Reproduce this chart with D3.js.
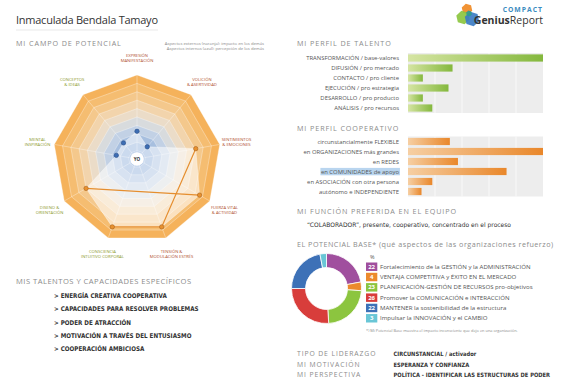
<!DOCTYPE html>
<html>
<head>
<meta charset="utf-8">
<script src="https://cdn.jsdelivr.net/npm/d3@7"></script>
<style>
  html, body { margin: 0; padding: 0; background: #fff; }
  svg { display: block; font-family: "Open Sans", sans-serif; }
  .hdr { fill: #8c8c8c; font-size: 7.2px; letter-spacing: 0.9px; }
  .lbl { fill: #555; font-size: 5.9px; }
  .bold { fill: #333; font-family: "DejaVu Sans", sans-serif; font-weight: bold; font-size: 6.4px; }
  .tiny { fill: #8a8a8a; font-size: 4.2px; }
</style>
</head>
<body>
<svg id="chart" width="567" height="389"></svg>
<script>
/* ------------ DATA ---------------------------------------------------- */
const personName = 'Inmaculada Bendala Tamayo';

const radarAxes = [
  ['EXPRESIÓN', 'MANIFESTACIÓN'], ['VOLICIÓN', '& ASERTIVIDAD'], ['SENTIMIENTOS', '& EMOCIONES'],
  ['FUERZA VITAL', '& ACTIVIDAD'], ['TENSIÓN &', 'MODULACIÓN ESTRÉS'], ['CONSCIENCIA', 'INTUITIVO CORPORAL'],
  ['DISEÑO &', 'ORIENTACIÓN'], ['MENTAL', 'INSPIRACIÓN'], ['CONCEPTOS', '& IDEAS']
];
const radarValues = [3.3, 1.9, 7.1, 8.6, 8.6, 8.6, 7.0, 2.5, 2.5];
const radarKind   = ['int', 'int', 'ext', 'ext', 'ext', 'ext', 'ext', 'int', 'int'];
const orangeLinks = [[6, 3], [2, 4, 5]];

const talentLabels = ['TRANSFORMACIÓN / base-valores', 'DIFUSIÓN / pro mercado', 'CONTACTO / pro cliente',
  'EJECUCIÓN / pro estrategia', 'DESARROLLO / pro producto', 'ANÁLISIS / pro recursos'];
const talentValues = [100, 33, 11, 30, 11, 18];

const coopLabels = ['circunstancialmente FLEXIBLE', 'en ORGANIZACIONES más grandes', 'en REDES',
  'en COMUNIDADES de apoyo', 'en ASOCIACIÓN con otra persona', 'autónomo e INDEPENDIENTE'];
const coopValues = [31, 100, 37, 73, 18, 10];

const baseLabels = ['Fortalecimiento de la GESTIÓN y la ADMINISTRACIÓN', 'VENTAJA COMPETITIVA y ÉXITO EN EL MERCADO',
  'PLANIFICACIÓN-GESTIÓN DE RECURSOS pro-objetivos', 'Promover la COMUNICACIÓN e INTERACCIÓN',
  'MANTENER la sostenibilidad de la estructura', 'Impulsar la INNOVACIÓN y el CAMBIO'];
const baseValues = [22, 4, 23, 26, 22, 3];

const talents = ['ENERGÍA CREATIVA COOPERATIVA', 'CAPACIDADES PARA RESOLVER PROBLEMAS', 'PODER DE ATRACCIÓN',
  'MOTIVACIÓN A TRAVÉS DEL ENTUSIASMO', 'COOPERACIÓN AMBICIOSA'];

const profileKeys   = ['TIPO DE LIDERAZGO', 'MI MOTIVACIÓN', 'MI PERSPECTIVA'];
const profileValues = ['CIRCUNSTANCIAL / activador', 'ESPERANZA Y CONFIANZA', 'POLÍTICA - IDENTIFICAR LAS ESTRUCTURAS DE PODER'];

const teamRole = '“COLABORADOR”, presente, cooperativo, concentrado en el proceso';

/* ------------ SVG ----------------------------------------------------- */
const svg = d3.select('#chart');
const defs = svg.append('defs');

function gradient(id, c0, c1) {
  const g = defs.append('linearGradient').attr('id', id)
    .attr('x1', '0%').attr('y1', '0%').attr('x2', '100%').attr('y2', '0%');
  g.append('stop').attr('offset', '0%').attr('stop-color', c0);
  g.append('stop').attr('offset', '100%').attr('stop-color', c1);
}
gradient('greenGrad', '#d6e5a3', '#84b83d');
gradient('orangeGrad', '#f6cfa3', '#e9872a');

/* ------------ HEADER -------------------------------------------------- */
svg.append('text').attr('x', 16).attr('y', 24).attr('fill', '#333')
  .style('font-size', '11px').attr('textLength', 142).text(personName);
svg.append('line').attr('x1', 16).attr('x2', 158).attr('y1', 30).attr('y2', 30)
  .attr('stroke', '#f1f1f1').attr('stroke-width', 1.5);

// logo
const logo = svg.append('g');
const hex = (x, y, r) => d3.range(6).map(i => [x + r * Math.cos(i * Math.PI / 3 + 0.3), y + r * Math.sin(i * Math.PI / 3 + 0.3)]);
[[467, 9, 5.5, '#f08a24'], [463, 17.5, 7, '#8cc63f'], [472, 19, 7.5, '#3c7cc4'], [469, 13.5, 3, '#2f9c8e']]
  .forEach(([x, y, r, c]) => logo.append('path').attr('d', d3.line()(hex(x, y, r)) + 'Z').attr('fill', c).attr('opacity', 0.92));
logo.append('text').attr('x', 543).attr('y', 12).attr('text-anchor', 'end').attr('fill', '#3b8cc0')
  .style('font-size', '6.8px').style('font-weight', 'bold').style('letter-spacing', '1px').text('COMPACT');
const gr = logo.append('text').attr('x', 543).attr('y', 24).attr('text-anchor', 'end').attr('fill', '#333')
  .style('font-size', '10.5px');
gr.append('tspan').style('font-weight', 'bold').text('Genius');
gr.append('tspan').text('Report');

/* ------------ RADAR --------------------------------------------------- */
svg.append('text').attr('class', 'hdr').attr('x', 16).attr('y', 46).text('MI CAMPO DE POTENCIAL');
svg.append('text').attr('class', 'tiny').attr('x', 264).attr('y', 44.5).attr('text-anchor', 'end')
  .text('Aspectos externos (naranja): impacto en los demás');
svg.append('text').attr('class', 'tiny').attr('x', 264).attr('y', 49.5).attr('text-anchor', 'end')
  .text('Aspectos internos (azul): percepción de los demás');

const cx = 137, cy = 159, R = 84;
const n = radarAxes.length;
const ang = i => i * 2 * Math.PI / n;
const rScale = d3.scaleLinear().domain([0, 10]).range([0, R]);
const pt = (i, r) => [r * Math.sin(ang(i)), -r * Math.cos(ang(i))];
const ringCol = d3.scaleLinear().domain([0, 0.4, 0.58, 0.8, 1])
  .range(['#6592d0', '#cfdae8', '#f0dcc2', '#f5c27c', '#f5ac50']);

const radar = svg.append('g').attr('transform', `translate(${cx},${cy})`);
const ringLine = lvl => d3.lineRadial().angle((d, i) => ang(i)).radius(() => rScale(lvl)).curve(d3.curveLinearClosed)(radarAxes);

radar.selectAll('path.ring').data(d3.range(10, 0, -1)).join('path')
  .attr('class', 'ring')
  .attr('d', ringLine)
  .attr('fill', l => ringCol((l - 0.5) / 10))
  .attr('stroke', '#fff').attr('stroke-width', 0.6).attr('stroke-opacity', 0.55);

radar.selectAll('line.spoke').data(radarAxes).join('line')
  .attr('class', 'spoke')
  .attr('x2', (d, i) => pt(i, R)[0])
  .attr('y2', (d, i) => pt(i, R)[1])
  .attr('stroke', '#fff').attr('stroke-width', 0.6).attr('stroke-opacity', 0.55);

radar.append('path')
  .attr('d', d3.lineRadial().angle((d, i) => ang(i)).radius(d => rScale(d)).curve(d3.curveLinearClosed)(radarValues))
  .attr('fill', '#fff').attr('fill-opacity', 0.55).attr('stroke', '#fff').attr('stroke-opacity', 0.6).attr('stroke-width', 0.6);

orangeLinks.forEach(link => {
  radar.append('path')
    .attr('d', d3.line()(link.map(i => pt(i, rScale(radarValues[i])))))
    .attr('fill', 'none').attr('stroke', '#e58e2f').attr('stroke-width', 1.2);
});

radar.selectAll('circle.pt').data(radarValues).join('circle')
  .attr('class', 'pt')
  .attr('cx', (d, i) => pt(i, rScale(d))[0])
  .attr('cy', (d, i) => pt(i, rScale(d))[1])
  .attr('r', 2.2)
  .attr('fill', (d, i) => radarKind[i] === 'ext' ? '#e8912f' : '#3d6db3')
  .attr('stroke', (d, i) => radarKind[i] === 'ext' ? '#a8611d' : '#2a4f8a')
  .attr('stroke-width', 0.6);

radar.append('circle').attr('r', 6.8).attr('fill', '#fff');
radar.append('text').attr('y', 1.6).attr('text-anchor', 'middle').attr('fill', '#333')
  .style('font-size', '4.6px').style('font-weight', 'bold').text('YO');

radar.selectAll('text.axis').data(radarAxes).join('text')
  .attr('class', 'axis')
  .attr('text-anchor', 'middle')
  .attr('fill', (d, i) => i <= 4 ? '#b0502d' : '#8d9a2c')
  .style('font-size', '4.2px')
  .each(function (d, i) {
    const [x, y] = pt(i, 101);
    d3.select(this).selectAll('tspan').data(d).join('tspan')
      .attr('x', x).attr('y', (t, k) => y - 0.8 + k * 5).text(t => t);
  });

/* ------------ BAR PANELS ---------------------------------------------- */
function barPanel(labels, values, y0, y1, fillId) {
  const x = d3.scaleLinear().domain([0, 100]).range([408, 543]);
  const y = d3.scaleBand().domain(labels).range([y0, y1]).paddingInner(0.28).paddingOuter(0.14);
  const g = svg.append('g');
  g.append('rect').attr('x', x(0)).attr('y', y0).attr('width', x(100) - x(0)).attr('height', y1 - y0).attr('fill', '#ededed');
  g.selectAll('line.grid').data([20, 40, 60, 80]).join('line')
    .attr('x1', x).attr('x2', x).attr('y1', y0).attr('y2', y1)
    .attr('stroke', '#fff').attr('stroke-width', 0.7);
  g.selectAll('rect.bar').data(values).join('rect')
    .attr('x', x(0)).attr('y', (d, i) => y(labels[i]))
    .attr('width', d => x(d) - x(0)).attr('height', y.bandwidth())
    .attr('fill', `url(#${fillId})`);
  g.selectAll('text.lbl').data(labels).join('text')
    .attr('class', 'lbl').attr('x', 399).attr('y', d => y(d) + y.bandwidth() / 2 + 2.1)
    .attr('text-anchor', 'end').text(d => d);
  return { g, y };
}

svg.append('text').attr('class', 'hdr').attr('x', 297).attr('y', 46).text('MI PERFIL DE TALENTO');
barPanel(talentLabels, talentValues, 53, 113, 'greenGrad');

svg.append('text').attr('class', 'hdr').attr('x', 297).attr('y', 130.5).text('MI PERFIL COOPERATIVO');
const coop = barPanel(coopLabels, coopValues, 136.5, 196.5, 'orangeGrad');
// highlighted label
const hl = coop.g.selectAll('text.lbl').filter(d => d === 'en COMUNIDADES de apoyo').node().getBBox();
coop.g.insert('rect', 'text').attr('x', hl.x - 0.5).attr('y', hl.y + 0.3).attr('width', hl.width + 1).attr('height', hl.height - 0.6)
  .attr('fill', '#b9d5ef');

/* ------------ TEAM ROLE ----------------------------------------------- */
svg.append('text').attr('class', 'hdr').attr('x', 297).attr('y', 213.5).text('MI FUNCIÓN PREFERIDA EN EL EQUIPO');
svg.append('text').attr('class', 'bold').attr('x', 307).attr('y', 226.5)
  .attr('textLength', 204).attr('lengthAdjust', 'spacingAndGlyphs').style('font-weight', 'normal')
  .style('font-size', '6.2px').attr('fill', '#222').text(teamRole);

/* ------------ DONUT --------------------------------------------------- */
svg.append('text').attr('class', 'hdr').attr('x', 297).attr('y', 247).attr('textLength', 257).text('EL POTENCIAL BASE* (qué aspectos de las organizaciones refuerzo)');

const baseColors = ['#a04f9e', '#ec8a2d', '#8cc53f', '#d83d3b', '#3d71b7', '#69c6d6'];
const pie = d3.pie().sort(null).value(d => d);
const arc = d3.arc().innerRadius(21).outerRadius(35);
svg.append('g').attr('transform', 'translate(326.5,288.5)')
  .selectAll('path').data(pie(baseValues)).join('path')
  .attr('d', arc).attr('fill', (d, i) => baseColors[i]).attr('stroke', '#fff').attr('stroke-width', 0.8);

svg.append('text').attr('x', 370).attr('y', 259).attr('fill', '#555').style('font-size', '5.5px').text('%');
const leg = svg.append('g');
const ly = d3.scaleBand().domain(baseLabels).range([262.5, 322.5]).paddingInner(0.18);
leg.selectAll('rect').data(baseLabels).join('rect')
  .attr('x', 366).attr('y', d => ly(d)).attr('width', 11.3).attr('height', ly.bandwidth())
  .attr('fill', (d, i) => baseColors[i]);
leg.selectAll('text.num').data(baseValues).join('text')
  .attr('class', 'num').attr('x', 371.6).attr('y', (d, i) => ly(baseLabels[i]) + ly.bandwidth() / 2 + 2.1)
  .attr('text-anchor', 'middle').attr('fill', '#fff').style('font-size', '6px').style('font-weight', 'bold').text(d => d);
leg.selectAll('text.lbl').data(baseLabels).join('text')
  .attr('class', 'lbl').attr('x', 380).attr('y', d => ly(d) + ly.bandwidth() / 2 + 2.1)
  .style('font-size', '6.1px').text(d => d);

svg.append('text').attr('class', 'tiny').attr('x', 366).attr('y', 332)
  .style('font-size', '3.9px').text('*) Mi Potencial Base muestra el impacto inconsciente que dejo en una organización.');

/* ------------ TALENTS ------------------------------------------------- */
svg.append('text').attr('class', 'hdr').attr('x', 16).attr('y', 283.5).attr('textLength', 176)
  .style('font-size', '7.6px').text('MIS TALENTOS Y CAPACIDADES ESPECÍFICOS');
// narrow bold face: squeeze horizontally with a transform
svg.selectAll('text.talent').data(talents).join('text')
  .attr('class', 'bold talent')
  .attr('transform', (d, i) => `translate(54,${298.3 + i * 13.1}) scale(0.88,1)`)
  .text(d => '> ' + d);

/* ------------ PROFILE ------------------------------------------------- */
const py = d3.scalePoint().domain(profileKeys).range([356, 377]);
svg.selectAll('text.pkey').data(profileKeys).join('text')
  .attr('class', 'hdr pkey').attr('x', 297).attr('y', d => py(d)).style('font-size', '6.8px').text(d => d);
svg.selectAll('text.pval').data(profileValues).join('text')
  .attr('class', 'bold pval')
  .attr('transform', (d, i) => `translate(393.5,${py(profileKeys[i])}) scale(0.86,1)`)
  .style('font-size', '6px').text(d => d);
</script>
</body>
</html>
